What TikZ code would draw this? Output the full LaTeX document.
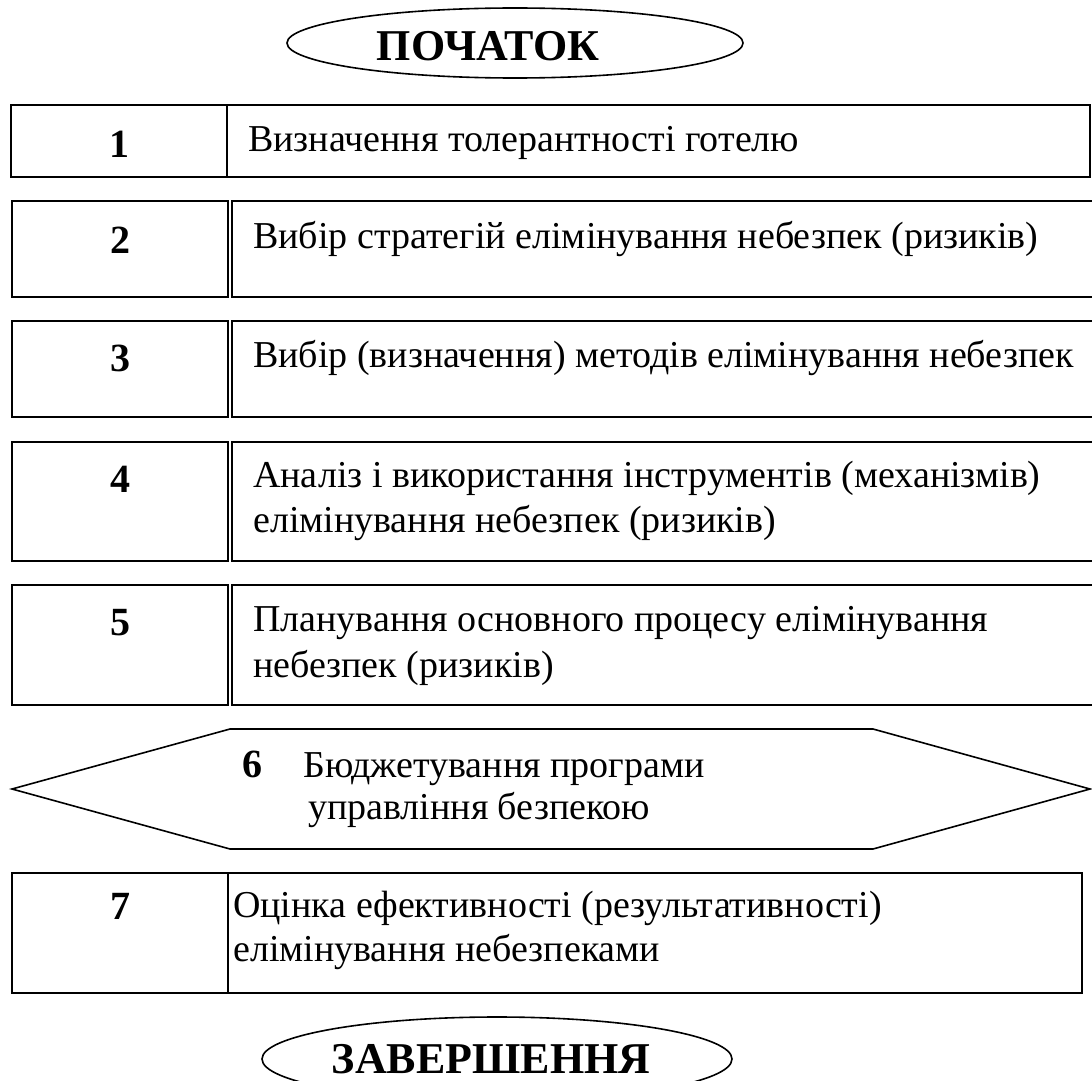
\documentclass[tikz,border=0pt]{standalone}
\usepackage{fontspec}
\setmainfont{Liberation Serif}
\usetikzlibrary{shapes.geometric}
\begin{document}
\begin{tikzpicture}[x=1pt,y=-1pt,
  frame/.style={draw, line width=1.6pt, rectangle, inner sep=0pt, outer sep=0pt},
  oval/.style={draw, line width=1.6pt, ellipse, inner sep=0pt, outer sep=0pt},
  title/.style={anchor=base, inner sep=0pt, text depth=0pt, font=\fontsize{44}{48}\selectfont\bfseries},
  txt/.style={anchor=base west, inner sep=0pt, font=\fontsize{38}{40}\selectfont},
  num/.style={anchor=base, inner sep=0pt, font=\fontsize{40}{42}\selectfont\bfseries},
  ]
\useasboundingbox (0,0) rectangle (1092,1081);
\clip (0,0) rectangle (1092,1081);
% start / end ovals
\node[oval, minimum width=456pt, minimum height=70pt] (start) at (515,43) {};
\node[title] (starttxt) at (488,61) {ПОЧАТОК};
\node[oval, minimum width=470pt, minimum height=84pt] (finish) at (497,1059) {};
\node[title] (finishtxt) at (491,1073) {ЗАВЕРШЕННЯ};
% box 1
\node[frame, minimum width=216pt, minimum height=72pt] (l1) at (119,141) {};
\node[frame, minimum width=863pt, minimum height=72pt] (r1) at (658.5,141) {};
\node[num] (n1) at (119,157) {1};
\node[txt] (t1) at (248,151) {Визначення толерантності готелю};
% box 2
\node[frame, minimum width=216pt, minimum height=96pt] (l2) at (120,249) {};
\node[frame, minimum width=878pt, minimum height=96pt] (r2) at (671,249) {};
\node[num] (n2) at (120,253) {2};
\node[txt] (t2) at (253,248) {Вибір стратегій елімінування небезпек (ризиків)};
% box 3
\node[frame, minimum width=216pt, minimum height=96pt] (l3) at (120,369) {};
\node[frame, minimum width=878pt, minimum height=96pt] (r3) at (671,369) {};
\node[num] (n3) at (120,371) {3};
\node[txt] (t3) at (253,367) {Вибір (визначення) методів елімінування небезпек};
% box 4
\node[frame, minimum width=216pt, minimum height=119pt] (l4) at (120,501.5) {};
\node[frame, minimum width=878pt, minimum height=119pt] (r4) at (671,501.5) {};
\node[num] (n4) at (120,492) {4};
\node[txt] (t4a) at (253,487) {Аналіз і використання інструментів (механізмів)};
\node[txt] (t4b) at (253,532) {елімінування небезпек (ризиків)};
% box 5
\node[frame, minimum width=216pt, minimum height=120pt] (l5) at (120,645) {};
\node[frame, minimum width=878pt, minimum height=120pt] (r5) at (671,645) {};
\node[num] (n5) at (120,635) {5};
\node[txt] (t5a) at (253,631) {Планування основного процесу елімінування};
\node[txt] (t5b) at (253,677) {небезпек (ризиків)};
% hexagon 6
\draw[line width=1.6pt] (12,789) -- (230,729) -- (873,729) -- (1090,789) -- (873,849) -- (230,849) -- cycle;
\node[num, anchor=base west] (n6) at (242,777) {6};
\node[txt] (t6a) at (303,777) {Бюджетування програми};
\node[txt] (t6b) at (308,819) {управління безпекою};
% box 7
\node[frame, minimum width=216pt, minimum height=120pt] (l7) at (120,933) {};
\node[frame, minimum width=854pt, minimum height=120pt] (r7) at (655,933) {};
\node[num] (n7) at (120,919) {7};
\node[txt] (t7a) at (233,917) {Оцінка ефективності (результативності)};
\node[txt] (t7b) at (233,961) {елімінування небезпеками};
\end{tikzpicture}
\end{document}
